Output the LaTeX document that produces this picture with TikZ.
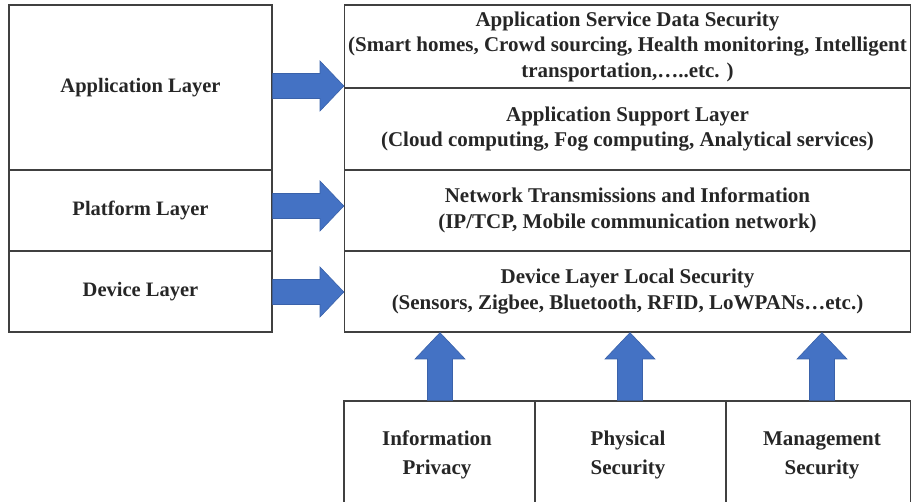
\documentclass[tikz,border=0pt]{standalone}
\usepackage{fontspec}
\setmainfont{Liberation Serif}
\definecolor{arrowblue}{HTML}{4472C4}
\definecolor{arrowedge}{HTML}{3A62AA}
\definecolor{boxline}{HTML}{404040}
\begin{document}
\begin{tikzpicture}[x=1pt,y=-1pt,
  cell/.style={draw=boxline,line width=1.3pt,rectangle,inner sep=0pt,
    align=center,font=\fontsize{21}{25.5}\selectfont\bfseries,text=black!85},
  leftcell/.style={cell,font=\fontsize{20.5}{25}\selectfont\bfseries},
  bottomtext/.style={font=\fontsize{21}{29}\selectfont\bfseries,text=black!85,align=center},
  blockarrow/.style={fill=arrowblue,draw=arrowedge,line width=0.6pt}]
\useasboundingbox (0,0) rectangle (911,502);
% left column
\node[leftcell,minimum width=263pt,minimum height=165pt] (appL) at (140.5,87.5) {Application Layer};
\node[leftcell,minimum width=263pt,minimum height=81pt] (platL) at (140.5,210.5) {Platform Layer};
\node[leftcell,minimum width=263pt,minimum height=81pt] (devL) at (140.5,291.5) {Device Layer};
% right column
\node[cell,minimum width=566pt,minimum height=83pt] (asds) at (627.5,46.5)
  {Application Service Data Security\\(Smart homes, Crowd sourcing, Health monitoring, Intelligent\\transportation,\dots..etc. )};
\node[cell,minimum width=566pt,minimum height=82pt] (asl) at (627.5,129)
  {Application Support Layer\\(Cloud computing, Fog computing, Analytical services)};
\node[cell,minimum width=566pt,minimum height=81pt] (nti) at (627.5,210.5)
  {Network Transmissions and Information\\(IP/TCP, Mobile communication network)};
\node[cell,minimum width=566pt,minimum height=81pt] (dlls) at (627.5,291.5)
  {Device Layer Local Security\\(Sensors, Zigbee, Bluetooth, RFID, LoWPANs\dots etc.)};
% bottom row
\node[cell,minimum width=191pt,minimum height=110pt] (ip) at (439.5,456) {};
\node[cell,minimum width=191pt,minimum height=110pt] (ps) at (630.5,456) {};
\node[cell,minimum width=185pt,minimum height=110pt] (ms) at (818.5,456) {};
\node[bottomtext] (ipt) at (437,455) {Information\\Privacy};
\node[bottomtext] (pst) at (628,455) {Physical\\Security};
\node[bottomtext] (mst) at (822,455) {Management\\Security};
% horizontal block arrows
\foreach \src/\dst/\yy in {appL/asds/86, platL/nti/206, devL/dlls/292}{
  \draw[blockarrow] (\src.east |- 0,\yy-12.5) -- (320,\yy-12.5) -- (320,\yy-25)
    -- (\dst.west |- 0,\yy) -- (320,\yy+25) -- (320,\yy+12.5) -- (\src.east |- 0,\yy+12.5) -- cycle;
}
% vertical block arrows
\foreach \src/\xx in {ip/440, ps/630, ms/822}{
  \draw[blockarrow] (\xx-12.5,0 |- \src.north) -- (\xx-12.5,359) -- (\xx-25,359)
    -- (\xx,0 |- dlls.south) -- (\xx+25,359) -- (\xx+12.5,359) -- (\xx+12.5,0 |- \src.north) -- cycle;
}
\end{tikzpicture}
\end{document}
